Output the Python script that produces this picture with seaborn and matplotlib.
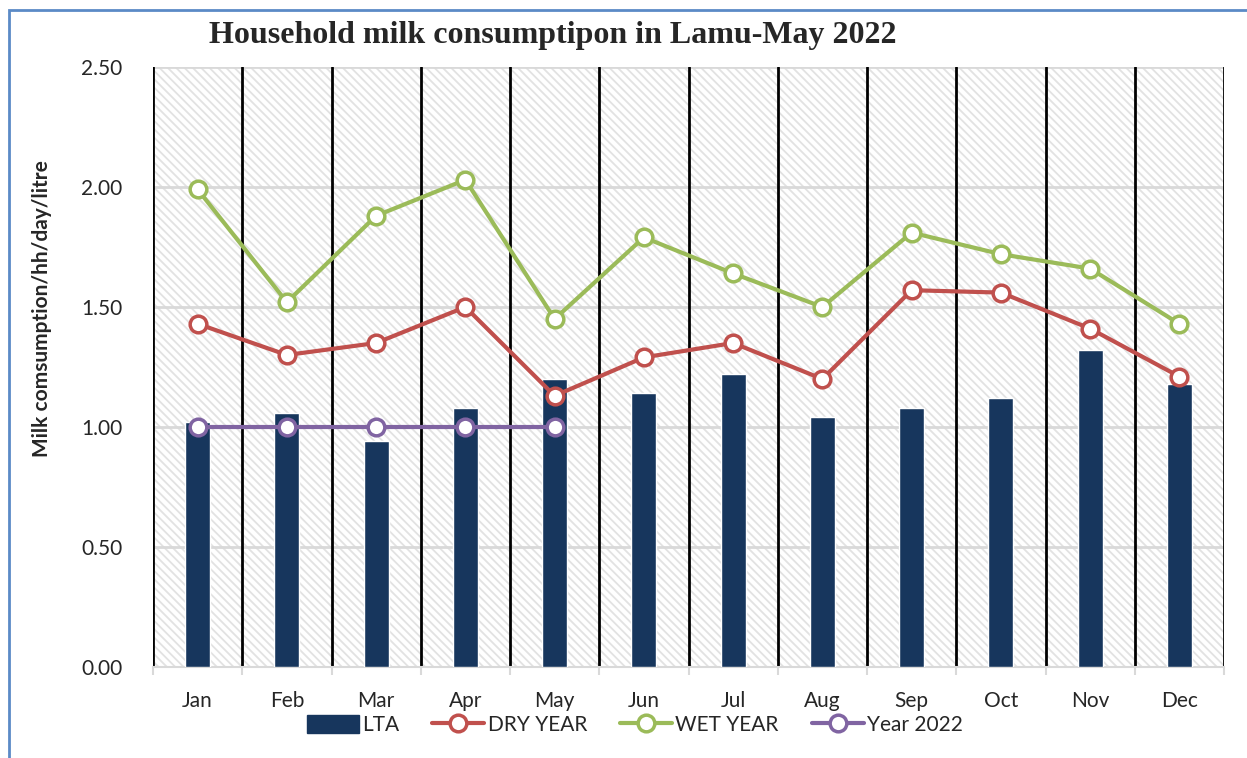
import numpy as np
import pandas as pd
import matplotlib
matplotlib.use("Agg")
import matplotlib.pyplot as plt
import seaborn as sns
from matplotlib.patches import Rectangle, Patch
from matplotlib.lines import Line2D

months = ["Jan", "Feb", "Mar", "Apr", "May", "Jun", "Jul", "Aug", "Sep", "Oct", "Nov", "Dec"]
lta = [1.02, 1.06, 0.94, 1.08, 1.20, 1.14, 1.22, 1.04, 1.08, 1.12, 1.32, 1.18]
dry_year = [1.43, 1.30, 1.35, 1.50, 1.13, 1.29, 1.35, 1.20, 1.57, 1.56, 1.41, 1.21]
wet_year = [1.99, 1.52, 1.88, 2.03, 1.45, 1.79, 1.64, 1.50, 1.81, 1.72, 1.66, 1.43]
year_2022 = [1.00, 1.00, 1.00, 1.00, 1.00]
y_ticks = [0.0, 0.5, 1.0, 1.5, 2.0, 2.5]

C_BAR = "#17365d"
C_DRY = "#c0504d"
C_WET = "#9bbb59"
C_2022 = "#8064a2"

sns.set_theme(style="white")
plt.rcParams["font.family"] = ["Lato", "DejaVu Sans"]
plt.rcParams["hatch.linewidth"] = 1.3

fig = plt.figure(figsize=(12.47, 7.58), dpi=100)
ax = fig.add_axes([153 / 1247, 1 - 667 / 758, (1224 - 153) / 1247, 600 / 758])

# hatched plot background
ax.set_facecolor("white")
bg = Rectangle((0, 0), 1, 1, transform=ax.transAxes, facecolor="white",
               edgecolor="#e2e2e2", hatch="\\\\\\\\", linewidth=0, zorder=0)
ax.add_patch(bg)

pos = np.arange(len(months))
df = pd.DataFrame({"month": months, "lta": lta})
sns.barplot(data=df, x="month", y="lta", color=C_BAR, width=0.28,
            saturation=1, ax=ax, zorder=3)

def draw_line(xs, ys, color):
    sns.lineplot(x=xs, y=ys, ax=ax, color=color, linewidth=3, marker="o",
                 markersize=12, markerfacecolor="white", markeredgecolor=color,
                 markeredgewidth=2.5, zorder=5)

draw_line(pos, dry_year, C_DRY)
draw_line(pos, wet_year, C_WET)
draw_line(pos[:len(year_2022)], year_2022, C_2022)

ax.set_xlim(-0.5, len(months) - 0.5)
ax.set_ylim(0, 2.5)
ax.set_yticks(y_ticks)
ax.set_yticklabels([f"{v:.2f}" for v in y_ticks], fontsize=15)
ax.yaxis.grid(True, color="#d9d9d9", linewidth=2)
ax.set_axisbelow(True)
for g in ax.get_ygridlines():
    g.set_zorder(1)

# month separators
for b in np.arange(-0.5, len(months), 1.0):
    ax.axvline(b, color="black", linewidth=2, zorder=2)

ax.set_xticks(pos)
ax.set_xticklabels(months, fontsize=15)
ax.set_xticks(np.arange(-0.5, len(months), 1.0), minor=True)
ax.tick_params(axis="x", which="major", length=0, pad=17)
ax.tick_params(axis="x", which="minor", length=6, width=1.5, color="#d9d9d9", bottom=True)
ax.tick_params(axis="y", length=0, pad=22)
ax.set_xlabel("")
ax.set_ylabel("Milk comsumption/hh/day/litre", fontsize=15, fontweight="bold")
ax.yaxis.set_label_coords(-0.0943, 0.597)

for side in ["top", "right", "left"]:
    ax.spines[side].set_visible(False)
ax.spines["bottom"].set_color("#d9d9d9")
ax.spines["bottom"].set_linewidth(1.5)

fig.text(553 / 1247, 1 - 35 / 758, "Household milk consumptipon in Lamu-May 2022",
         ha="center", va="center", fontsize=23, fontweight="bold",
         family=["Liberation Serif", "DejaVu Serif"])

handles = [
    Patch(facecolor=C_BAR, edgecolor=C_BAR),
    Line2D([], [], color=C_DRY, lw=3, marker="o", ms=12, mfc="white", mec=C_DRY, mew=2.5),
    Line2D([], [], color=C_WET, lw=3, marker="o", ms=12, mfc="white", mec=C_WET, mew=2.5),
    Line2D([], [], color=C_2022, lw=3, marker="o", ms=12, mfc="white", mec=C_2022, mew=2.5),
]
labels = ["LTA", "DRY YEAR", "WET YEAR", "Year 2022"]
fig.legend(handles, labels, loc="center", bbox_to_anchor=(635 / 1247, 1 - 725 / 758),
           ncol=4, frameon=False, fontsize=15, handlelength=2.5, handleheight=1.0,
           handletextpad=0.15, columnspacing=1.6)

# outer chart border
fig.add_artist(Rectangle((9 / 1247, -0.05), 1.2, 1 - 10 / 758 + 0.05,
                         transform=fig.transFigure, fill=False,
                         edgecolor="#5b8ac6", linewidth=2))

fig.savefig("out.png", dpi=100)
